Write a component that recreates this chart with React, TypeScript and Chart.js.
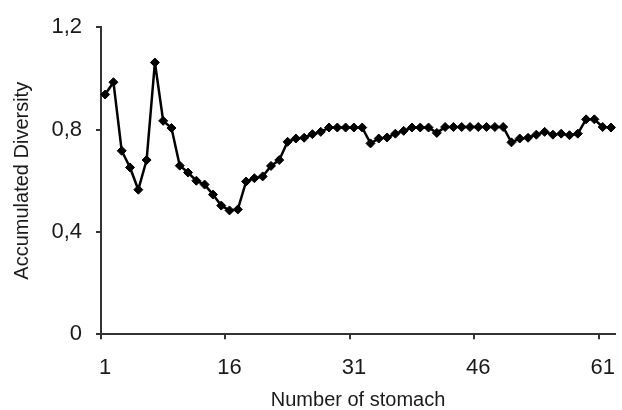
import React, { useEffect, useRef } from "react";
import { Chart, registerables } from "chart.js";

Chart.register(...registerables);

const categories: string[] = [
  "1", "2", "3", "4", "5", "6", "7", "8", "9", "10",
  "11", "12", "13", "14", "15", "16", "17", "18", "19", "20",
  "21", "22", "23", "24", "25", "26", "27", "28", "29", "30",
  "31", "32", "33", "34", "35", "36", "37", "38", "39", "40",
  "41", "42", "43", "44", "45", "46", "47", "48", "49", "50",
  "51", "52", "53", "54", "55", "56", "57", "58", "59", "60",
  "61", "62",
];

const diversity: number[] = [
  0.937, 0.985, 0.717, 0.652, 0.565, 0.681, 1.062, 0.834, 0.806, 0.659,
  0.632, 0.6, 0.585, 0.546, 0.503, 0.484, 0.488, 0.597, 0.61, 0.617,
  0.658, 0.681, 0.752, 0.765, 0.768, 0.782, 0.791, 0.808, 0.808, 0.808,
  0.808, 0.808, 0.746, 0.765, 0.769, 0.784, 0.795, 0.808, 0.808, 0.808,
  0.787, 0.81, 0.81, 0.81, 0.81, 0.81, 0.81, 0.81, 0.81, 0.75,
  0.765, 0.768, 0.78, 0.791, 0.78, 0.784, 0.778, 0.784, 0.84, 0.84,
  0.81, 0.808,
];

const xTickLabels: string[] = ["1", "16", "31", "46", "61"];
const yTickValues: number[] = [0, 0.4, 0.8, 1.2];
const yTickLabels: string[] = ["0", "0,4", "0,8", "1,2"];

const xTitle = "Number of stomach";
const yTitle = "Accumulated Diversity";

const AXIS_COLOR = "#333333";
const TEXT_COLOR = "#1a1a1a";
const FONT = "'Liberation Sans', Arial, sans-serif";

export default function App() {
  const canvasRef = useRef<HTMLCanvasElement | null>(null);

  useEffect(() => {
    const canvas = canvasRef.current;
    if (!canvas) return;
    const chart = new Chart(canvas, {
      type: "line",
      data: {
        labels: categories,
        datasets: [
          {
            data: diversity,
            borderColor: "#000000",
            backgroundColor: "#000000",
            borderWidth: 2.5,
            borderJoinStyle: "round",
            tension: 0,
            pointStyle: "rectRot",
            pointRadius: 4.5,
            pointBorderWidth: 1,
            pointBackgroundColor: "#000000",
            pointBorderColor: "#000000",
            fill: false,
          },
        ],
      },
      options: {
        responsive: false,
        animation: false,
        devicePixelRatio: 1,
        layout: { padding: { top: 24.3, right: 2.3, left: 0, bottom: 0 } },
        plugins: {
          legend: { display: false },
          tooltip: { enabled: false },
        },
        scales: {
          x: {
            type: "category",
            offset: true,
            grid: {
              offset: true,
              drawOnChartArea: false,
              drawTicks: true,
              tickLength: 5,
              lineWidth: 2,
              color: (ctx: any) =>
                ctx.type === "tick" && ctx.tick && xTickLabels.includes(String(categories[ctx.index]))
                  ? AXIS_COLOR
                  : "rgba(0,0,0,0)",
            },
            border: { display: true, color: AXIS_COLOR, width: 2 },
            ticks: {
              autoSkip: false,
              maxRotation: 0,
              minRotation: 0,
              padding: 15,
              color: TEXT_COLOR,
              font: { family: FONT, size: 22 },
              callback: (_v: any, idx: number) =>
                xTickLabels.includes(categories[idx]) ? categories[idx] : "",
            },
            title: {
              display: true,
              text: xTitle,
              color: TEXT_COLOR,
              font: { family: FONT, size: 20, lineHeight: 1 },
              padding: { top: 0, bottom: 0 },
            },
            afterFit: (scale: any) => {
              scale.height = 75.7;
            },
          },
          y: {
            type: "linear",
            min: 0,
            max: 1.2,
            afterBuildTicks: (scale: any) => {
              scale.ticks = yTickValues.map((v) => ({ value: v }));
            },
            grid: {
              drawOnChartArea: false,
              drawTicks: true,
              tickLength: 5,
              lineWidth: 2,
              color: AXIS_COLOR,
            },
            border: { display: true, color: AXIS_COLOR, width: 2 },
            ticks: {
              padding: 14,
              color: TEXT_COLOR,
              font: { family: FONT, size: 22 },
              callback: (v: any) => {
                const i = yTickValues.findIndex((t) => Math.abs(t - Number(v)) < 1e-6);
                return i >= 0 ? yTickLabels[i] : "";
              },
            },
            title: {
              display: true,
              text: yTitle,
              color: TEXT_COLOR,
              font: { family: FONT, size: 20, lineHeight: 1 },
              padding: { top: 12.5, bottom: 0 },
            },
            afterFit: (scale: any) => {
              scale.width = 101;
            },
          },
        },
      },
    });
    return () => {
      chart.destroy();
    };
  }, []);

  return (
    <div
      style={{
        position: "absolute",
        left: 0,
        top: 0,
        width: 622,
        height: 410,
        overflow: "hidden",
        background: "#ffffff",
      }}
    >
      <canvas ref={canvasRef} width={626} height={410} style={{ display: "block" }} />
    </div>
  );
}
